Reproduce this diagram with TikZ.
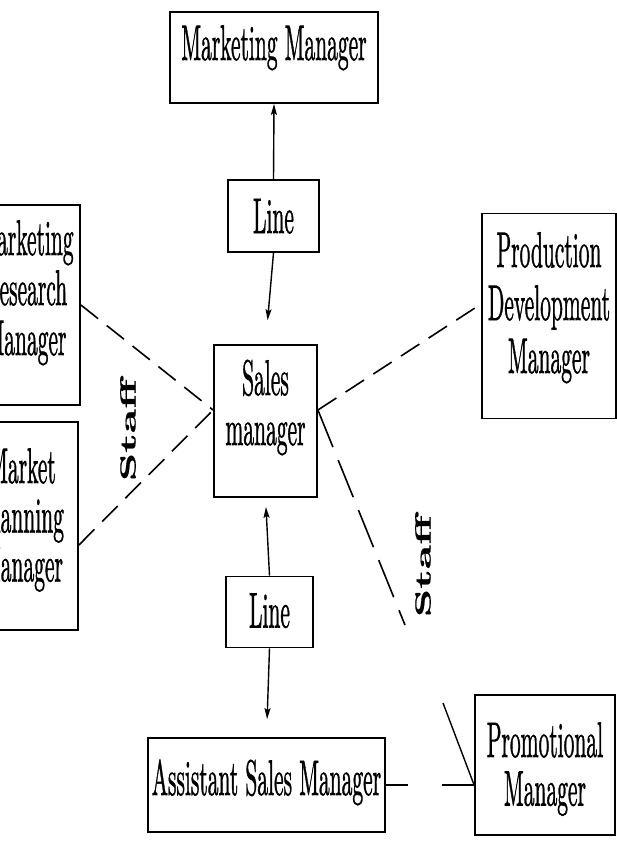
\documentclass[tikz,border=0pt]{standalone}
\usepackage{graphicx}
\usepackage{fontspec}
\usetikzlibrary{arrows.meta}
% slightly heavier roman for the box texts and labels
\newfontfamily\boxfont{lmroman10-regular.otf}[FakeBold=1.4]
\newfontfamily\labelfont{lmroman10-bold.otf}[FakeBold=0.8]
% condensed, centred multi-line box text; baseline = first line
\newcommand{\squeezed}[2][52pt]{{\fontsize{50}{#1}\selectfont
  \scalebox{0.43}[1]{\begin{tabular}[t]{@{}c@{}}#2\end{tabular}}}}
% bold rotated "Staff" label, condensed across its height
\newcommand{\stafflabel}[1]{\rotatebox{90}{\scalebox{1}[0.5]{\labelfont #1}}}
\begin{document}
\begin{tikzpicture}[x=1pt,y=-1pt,
  box/.style={draw, line width=1.8pt, inner sep=0pt, font=\boxfont},
  % first baseline sits #1/2 below the box centre
  below/.style={text height=#1, text depth=0pt},
  % first baseline sits #1/2 above the box centre
  above/.style={text height=0pt, text depth=#1},
  link/.style={line width=1.4pt},
  tip/.style={-{Stealth[length=11pt,width=6pt,inset=2pt]}},
  staffline/.style={line width=1.6pt, dash pattern=on 22pt off 11pt},
  longstaff/.style={line width=1.6pt, dash pattern=on 40pt off 14pt},
  stafftext/.style={font=\fontsize{44}{52}\selectfont, inner sep=0pt}]
\useasboundingbox (0,0) rectangle (617,843);
\clip (0,0) rectangle (617,843);

% boxes
\node[box, below=5pt, minimum width=208pt, minimum height=91pt] (mm) at (274,57.5) {\squeezed{Marketing Manager}};
\node[box, below=34pt, minimum width=91pt, minimum height=72pt] (line1) at (273.5,216) {\squeezed{Line}};
\node[box, above=52pt, minimum width=103pt, minimum height=152pt] (sales) at (265.5,421) {\squeezed[50pt]{Sales\\manager}};
\node[box, below=31pt, minimum width=87pt, minimum height=71pt] (line2) at (269.5,612) {\squeezed{Line}};
\node[box, below=20pt, minimum width=237pt, minimum height=94pt] (asm) at (266.5,785) {\squeezed{Assistant Sales Manager}};
\node[box, above=16pt, minimum width=140pt, minimum height=140pt] (promo) at (545,765) {\squeezed[48pt]{Promotional\\Manager}};
\node[box, above=98pt, minimum width=134pt, minimum height=205pt] (pdm) at (549,316) {\squeezed[53pt]{Production\\Development\\Manager}};
\node[box, above=100pt, minimum width=109pt, minimum height=200pt] (mrm) at (25.5,305) {\squeezed[50pt]{Marketing\\Research\\Manager}};
\node[box, above=86pt, minimum width=112pt, minimum height=208pt] (mpm) at (22,526) {\squeezed[49pt]{Market\\Planning\\Manager}};

% line of authority
\draw[link, tip] (line1.north) -- (mm.south);
\draw[link, tip, shorten >=24pt] (line1.south) -- (sales.north);
\draw[link, tip, shorten >=9pt] (line2.north) -- (sales.south);
\draw[link, tip, shorten >=18pt] (line2.south) -- (asm.north);

% staff relations
\coordinate (sw) at ([yshift=11pt]sales.west);
\coordinate (se) at ([yshift=11pt]sales.east);
\draw[staffline] (mrm.east) -- (sw);
\draw[staffline] ([yshift=-19pt]mpm.east) -- (sw);
\draw[staffline] (se) -- ([yshift=12pt]pdm.west);

\coordinate (pw) at (promo.west |- asm.east);
\coordinate (d1) at (405,625);
\coordinate (d2) at (443,703);
\draw[longstaff] (se) -- (d1);
\draw[link] (d2) -- (pw);
\draw[link] (asm.east) -- ++(22,0);
\draw[link] (pw) -- ++(-32,0);

\node[stafftext] (staffL) at (128,430) {\stafflabel{Staff}};
\node[stafftext] (staffR) at (423,566) {\stafflabel{Staff}};
\end{tikzpicture}
\end{document}
